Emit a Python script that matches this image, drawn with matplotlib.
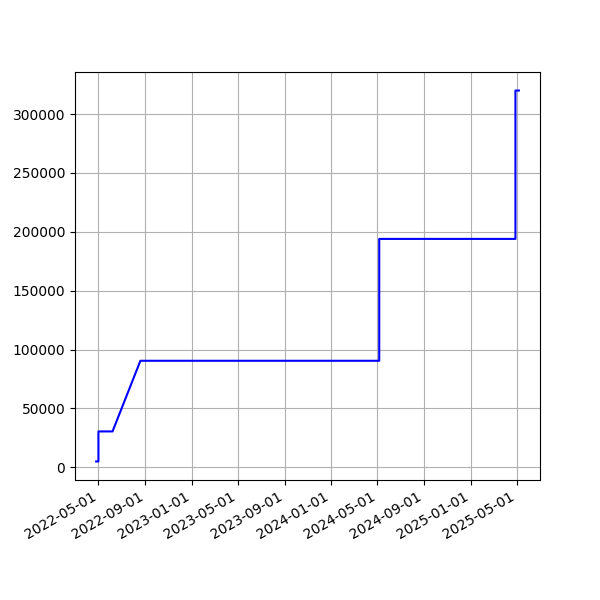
import matplotlib
matplotlib.use("Agg")
import matplotlib.pyplot as plt
import matplotlib.dates as mdates
import pandas as pd

dates = ["2022-04-25", "2022-05-01", "2022-05-01", "2022-06-07", "2022-08-19",
         "2023-05-01", "2024-05-06", "2024-05-06", "2025-04-28", "2025-04-28", "2025-05-07"]
values = [5000, 5000, 30500, 30500, 90500,
          90500, 90500, 194000, 194000, 320000, 320000]

x = pd.to_datetime(dates)

fig, ax = plt.subplots(figsize=(6, 6), dpi=100)
ax.plot(x, values, color="blue", linewidth=1.5)
ax.grid(True)
ticks = pd.to_datetime(["2022-05-01", "2022-09-01", "2023-01-01", "2023-05-01", "2023-09-01",
                        "2024-01-01", "2024-05-01", "2024-09-01", "2025-01-01", "2025-05-01"])
ax.set_xticks(ticks)
ax.xaxis.set_major_formatter(mdates.DateFormatter("%Y-%m-%d"))
fig.autofmt_xdate()
fig.savefig("out.png", dpi=100)
